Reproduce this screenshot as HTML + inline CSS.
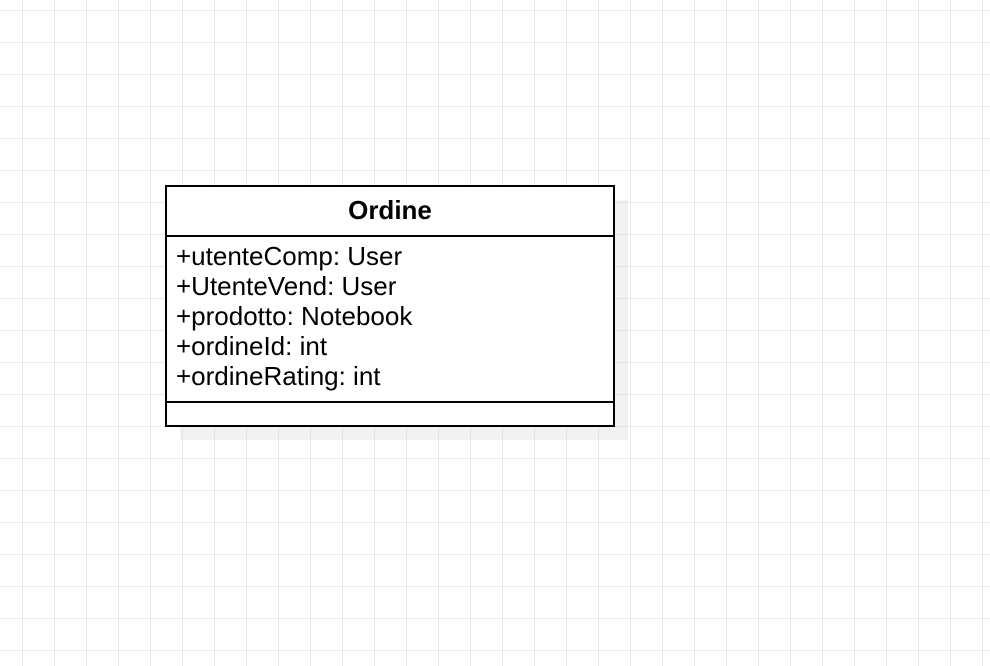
<!DOCTYPE html>
<html><head><meta charset="utf-8"><style>
html,body{margin:0;padding:0;}
body{width:990px;height:666px;overflow:hidden;position:relative;background:#fff;
background-image:linear-gradient(to right,#ebebeb 1px,transparent 1px),linear-gradient(to bottom,#ebebeb 1px,transparent 1px);
background-size:32px 32px;background-position:22px 10px;font-family:"Liberation Sans",sans-serif;}
.shadow{position:absolute;left:180px;top:200px;width:448px;height:240px;background:rgba(200,200,200,0.25);}
.box{position:absolute;left:165px;top:185px;width:446px;height:238px;border:2px solid #000;background:#fff;}
.head{height:48px;border-bottom:2px solid #000;text-align:center;font-weight:bold;font-size:26px;line-height:46px;}
.attrs{height:166px;border-bottom:2px solid #000;padding:4px 0 0 9px;box-sizing:border-box;font-size:26px;line-height:30px;}
</style></head><body>
<div class="shadow"></div>
<div class="box">
<div class="head">Ordine</div>
<div class="attrs">+utenteComp: User<br>+UtenteVend: User<br>+prodotto: Notebook<br>+ordineId: int<br>+ordineRating: int</div>
</div>
</body></html>
